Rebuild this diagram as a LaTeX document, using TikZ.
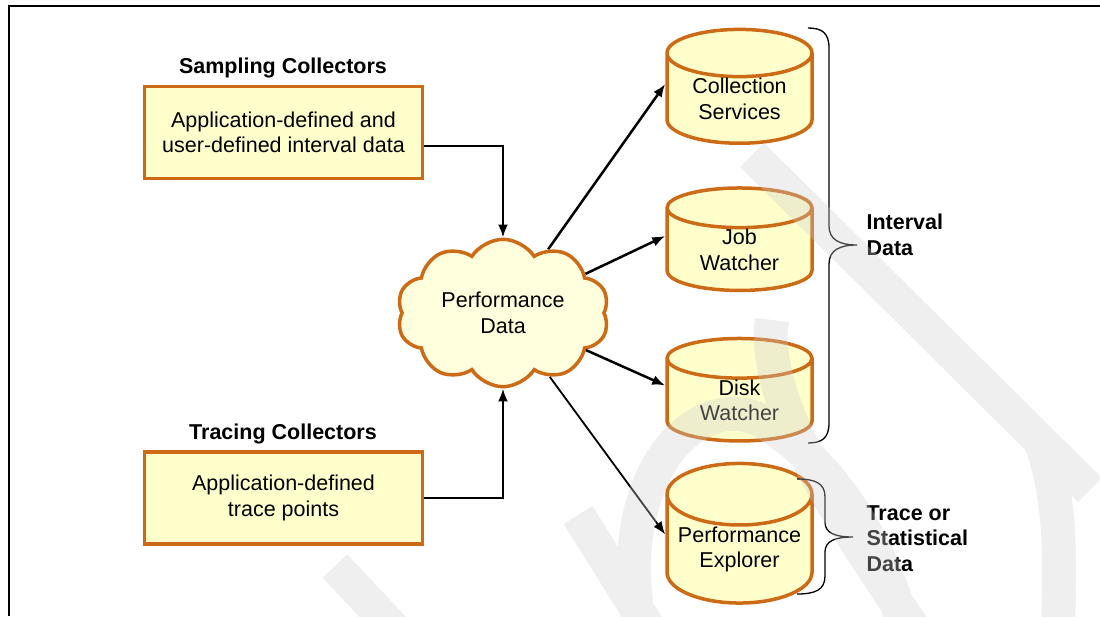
\documentclass[tikz,border=0pt]{standalone}
\usepackage{fontspec}
\setmainfont{Liberation Sans}
\usepackage{tikz}
\usetikzlibrary{arrows.meta,shapes.geometric,shapes.symbols}
\definecolor{edge}{RGB}{204,106,22}
\definecolor{pale}{RGB}{255,255,204}
\definecolor{cream}{RGB}{255,255,221}
\definecolor{wmgray}{RGB}{206,206,206}

\begin{document}
\begin{tikzpicture}
[
                     x =  1pt,
                     y = -1pt,
                   >= {Latex[length=13pt,width=10pt]},
             txt/.style = { font=\fontsize{21.5}{25.5}\selectfont, align=center },
            head/.style = { txt, font=\fontsize{21.5}{25.5}\selectfont\bfseries },
            side/.style = { head, align=left, anchor=west },
         collbox/.style = { txt, draw=edge, fill=pale, line width=3.5pt, minimum width=278pt, minimum height=92pt },
           store/.style = { txt, cylinder, shape border rotate=90, aspect=0.5, draw=edge, fill=pale,
                            line width=3.5pt, minimum width=145pt, minimum height=102pt, inner sep=0pt },
          puffed/.style = { txt, cloud, cloud puffs=10, cloud puff arc=115, aspect=1.5, draw=edge, fill=cream,
                            line width=3.5pt, minimum width=212pt, minimum height=142pt },
             arr/.style = { ->, line width=2.5pt },
           brace/.style = { line width=1.3pt }
]
	\useasboundingbox (0,0) rectangle (1100,616);
	\draw[line width=1.5pt] (9,616) -- (9,6) -- (1100,6);

	\node (samph) at (283, 68) [head] {Sampling Collectors};
	\node  (samp) at (283.5,132.5) [collbox] {Application-defined and\\user-defined interval data};
	\node (trach) at (283,434) [head] {Tracing Collectors};
	\node  (trac) at (283.5,498) [collbox] {Application-defined\\trace points};
	\node  (perf) at (503,313) [puffed] {Performance\\Data};

	\node  (coll) at (739.5, 99) [store] {Collection\\Services};
	\node   (job) at (739.5,250) [store] {Job\\Watcher};
	\node  (disk) at (739.5,400.5) [store] {Disk\\Watcher};
	\node   (pex) at (739.5,549.5) [store] {Performance\\Explorer};

	\draw[brace] (808,28) .. controls (822,28) and (829,33) .. (829,48) -- (829,226)
		.. controls (829,240) and (840,245) .. (857,245) .. controls (840,245) and (829,250) .. (829,264)
		-- (829,423) .. controls (829,438) and (822,443) .. (808,443);
	\draw[brace] (797,479) .. controls (815,479) and (825,483) .. (825,497) -- (825,522)
		.. controls (825,533) and (835,537) .. (853,537) .. controls (835,537) and (825,541) .. (825,552)
		-- (825,576) .. controls (825,590) and (815,594) .. (797,594);
	\node (ival) at (863,235) [side] {Interval\\Data};
	\node (tval) at (863,538.5) [side] {Trace or\\Statistical\\Data};

	\draw[arr] ([yshift=-13.5pt]samp.east) -| (perf.north);
	\draw[arr] (trac.east) -| (perf.south);
	\draw[arr] (perf) -- ([yshift=15pt]coll.west);
	\draw[arr] (perf) -- ([yshift=14pt]job.west);
	\draw[arr] (perf) -- ([yshift=15pt]disk.west);
	\draw[arr, line width=1.8pt] (perf) -- ([yshift=15pt]pex.west);

	\draw[wmgray, draw opacity=0.33, line width=34pt]
		(752,155) -- (1090,490)
		(1040,440) .. controls (1062,500) and (1060,560) .. (1058,630)
		(915,630) .. controls (840,520) and (760,400) .. (772,320)
		(640,630) .. controls (610,470) and (700,390) .. (760,420) .. controls (830,460) and (880,540) .. (905,630)
		(335,566) -- (395,630)
		(578,515) -- (650,630);
\end{tikzpicture}
\end{document}
